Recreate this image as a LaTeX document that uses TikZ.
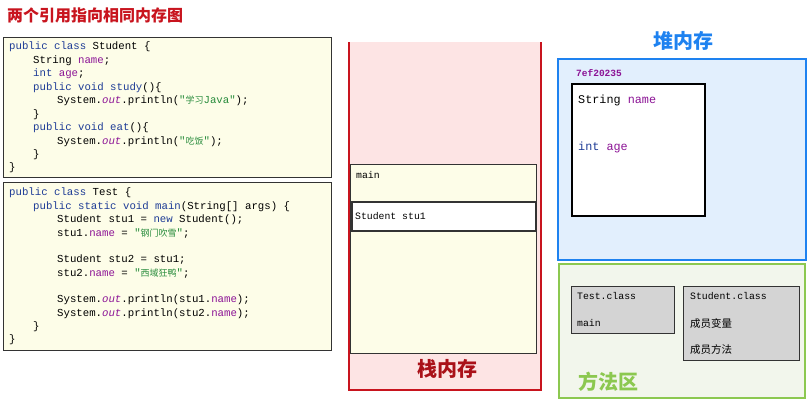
\documentclass[tikz,border=0pt]{standalone}
\usepackage{fontspec}
\setmainfont{Liberation Sans}
\setmonofont{Liberation Mono}
\newfontfamily\cjk{Noto Sans CJK SC}
\definecolor{kw}{RGB}{30,60,150}
\definecolor{fld}{RGB}{140,20,150}
\definecolor{str}{RGB}{40,140,60}
\definecolor{codebg}{RGB}{253,253,232}
\definecolor{stackbg}{RGB}{253,228,228}
\definecolor{heapbg}{RGB}{226,239,253}
\definecolor{methbg}{RGB}{242,246,236}
\definecolor{redc}{RGB}{200,20,30}
\definecolor{bluec}{RGB}{30,130,240}
\definecolor{greenc}{RGB}{140,200,80}
\newcommand{\Kw}[1]{\textcolor{kw}{#1}}
\newcommand{\Fd}[1]{\textcolor{fld}{#1}}
\newcommand{\Sr}[1]{\textcolor{str}{#1}}
\newcommand{\Ou}[1]{\textcolor{fld}{\itshape #1}}
\begin{document}
\begin{tikzpicture}[x=1pt,y=-1pt,
  code/.style={anchor=west,inner sep=0,font=\ttfamily\fontsize{10.7}{11}\selectfont},
  small/.style={code,font=\ttfamily\fontsize{9.8}{10}\selectfont},
  box/.style={draw=black!80,line width=0.8pt},
  big/.style={font=\cjk\bfseries\fontsize{20}{22}\selectfont,inner sep=0}]
\useasboundingbox (0,0) rectangle (810,402);
\node[anchor=west,inner sep=0,text=redc,font=\cjk\bfseries\fontsize{16}{17}\selectfont] (title) at (7,15) {两个引用指向相同内存图};
% code boxes
\draw[box,fill=codebg] (3,37) rectangle (331,177);
\draw[box,fill=codebg] (3,182) rectangle (331,350);
\def\CL#1#2#3{\node[code] at (#1,#2) {#3};}
\CL{9}{47}{\Kw{public class} Student \{}
\CL{33}{60.5}{String \Fd{name};}
\CL{33}{74}{\Kw{int} \Fd{age};}
\CL{33}{87.5}{\Kw{public void study}()\{}
\CL{57}{101}{System.\Ou{out}.println(\Sr{"{\cjk\small 学习}Java"});}
\CL{33}{114.5}{\}}
\CL{33}{128}{\Kw{public void eat}()\{}
\CL{57}{141.5}{System.\Ou{out}.println(\Sr{"{\cjk\small 吃饭}"});}
\CL{33}{155}{\}}
\CL{9}{168}{\}}
\CL{9}{193}{\Kw{public class} Test \{}
\CL{33}{206.5}{\Kw{public static void main}(String[] args) \{}
\CL{57}{220}{Student stu1 = \Kw{new} Student();}
\CL{57}{233.5}{stu1.\Fd{name} = \Sr{"{\cjk\small 钢门吹雪}"};}
\CL{57}{260}{Student stu2 = stu1;}
\CL{57}{273.5}{stu2.\Fd{name} = \Sr{"{\cjk\small 西域狂鸭}"};}
\CL{57}{300}{System.\Ou{out}.println(stu1.\Fd{name});}
\CL{57}{313.5}{System.\Ou{out}.println(stu2.\Fd{name});}
\CL{33}{327}{\}}
\CL{9}{340}{\}}
% stack
\fill[stackbg] (349,42) rectangle (541,390);
\draw[redc,line width=2pt] (349,42) -- (349,390) -- (541,390) -- (541,42);
\draw[box,fill=codebg] (350,164) rectangle (536,353);
\node[small] (main) at (356,175) {main};
\draw[box,line width=1.2pt,fill=white] (352,202) rectangle (536,231);
\node[small] (stu1) at (355,216) {Student stu1};
\node[big,text=redc!85!black] (stk) at (447,369) {栈内存};
% heap
\node[big,text=bluec] (heapt) at (683,41) {堆内存};
\draw[bluec,line width=2pt,fill=heapbg] (558,59) rectangle (806,260);
\node[code,text=fld,font=\ttfamily\bfseries\fontsize{9.5}{10}\selectfont] (addr) at (576,73) {7ef20235};
\draw[black,line width=1.5pt,fill=white] (572,84) rectangle (705,216);
\node[code,font=\ttfamily\fontsize{11.8}{12}\selectfont] (sn) at (578,100) {String \Fd{name}};
\node[code,font=\ttfamily\fontsize{11.8}{12}\selectfont] (ia) at (578,147) {\Kw{int} \Fd{age}};
% method area
\draw[greenc,line width=2pt,fill=methbg] (559,264) rectangle (805,398);
\draw[box,fill=black!17] (571,286) rectangle (674,333);
\node[small] (tc) at (577,296) {Test.class};
\node[small] (tm) at (577,323) {main};
\draw[box,fill=black!17] (683,286) rectangle (799,360);
\node[small] (sc) at (690,296) {Student.class};
\node[code,font=\cjk\fontsize{10.5}{11}\selectfont] (sv) at (690,323) {成员变量};
\node[code,font=\cjk\fontsize{10.5}{11}\selectfont] (sm) at (690,350) {成员方法};
\node[big,text=greenc] (ma) at (608,382) {方法区};
\end{tikzpicture}
\end{document}
